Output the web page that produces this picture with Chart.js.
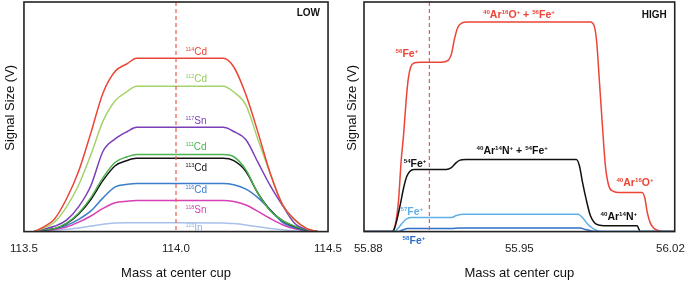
<!DOCTYPE html>
<html><head><meta charset="utf-8">
<script src="https://cdn.jsdelivr.net/npm/chart.js@4.4.1/dist/chart.umd.min.js"></script>
<style>
html,body{margin:0;padding:0;background:#fff;overflow:hidden;}
#wrap{position:relative;width:685px;height:283px;overflow:hidden;}
#left{position:absolute;left:0;top:0;width:352px;height:283px;}
#right{position:absolute;left:342px;top:0;width:353px;height:283px;}
</style></head><body>
<div id="wrap"><canvas id="left" width="352" height="283"></canvas><canvas id="right" width="353" height="283"></canvas></div>
<script>
// ---------- LOW resolution panel (Cd / Sn / In) ----------
const leftMass = [113.533, 113.56, 113.60, 113.64, 113.68, 113.72, 113.76, 113.80, 113.84, 113.87, 114.00, 114.155, 114.19, 114.23, 114.27, 114.31, 114.35, 114.39, 114.43, 114.465];
const cd114 = [0, 0.17, 0.54, 1.43, 2.64, 4.30, 6.04, 6.98, 7.32, 7.55, 7.55, 7.55, 7.17, 5.96, 4.30, 2.53, 1.18, 0.53, 0.13, 0];
const cd112 = [0, 0.13, 0.41, 1.08, 2.03, 3.35, 4.81, 5.70, 6.11, 6.33, 6.33, 6.33, 6.08, 5.51, 3.99, 2.53, 1.20, 0.51, 0.13, 0];
const sn117 = [0, 0.09, 0.23, 0.50, 1.09, 2.00, 3.50, 4.04, 4.36, 4.54, 4.54, 4.54, 4.36, 4.00, 3.00, 2.00, 1.14, 0.36, 0.09, 0];
const cd111 = [0, 0.07, 0.13, 0.37, 0.81, 1.48, 2.35, 3.02, 3.26, 3.36, 3.36, 3.36, 3.26, 2.69, 1.65, 0.91, 0.49, 0.24, 0.07, 0];
const cd113 = [0, 0.06, 0.13, 0.35, 0.77, 1.40, 2.23, 2.87, 3.10, 3.19, 3.19, 3.19, 3.09, 2.62, 1.66, 0.93, 0.48, 0.22, 0.06, 0];
const cd116 = [0, 0.04, 0.13, 0.27, 0.53, 0.90, 1.47, 1.95, 2.06, 2.10, 2.10, 2.10, 2.04, 1.85, 1.47, 0.95, 0.40, 0.17, 0.04, 0];
const sn118 = [0, 0.04, 0.09, 0.20, 0.41, 0.68, 1.01, 1.26, 1.32, 1.35, 1.35, 1.35, 1.31, 1.16, 0.88, 0.57, 0.30, 0.12, 0.03, 0];
const in115 = [0, 0.02, 0.05, 0.10, 0.16, 0.24, 0.32, 0.37, 0.39, 0.39, 0.39, 0.38, 0.35, 0.29, 0.21, 0.14, 0.08, 0.03, 0.01, 0];
const leftNames = ['^{114}Cd', '^{112}Cd', '^{117}Sn', '^{111}Cd', '^{113}Cd', '^{116}Cd', '^{118}Sn', '^{115}In'];
const leftTicks = [113.5, 114.0, 114.5];
const leftCenter = 114.0;

// ---------- HIGH resolution panel (Fe / ArO / ArN) ----------
const redMass = [55.878, 55.8910, 55.8926, 55.8940, 55.8952, 55.8964, 55.8975, 55.8985, 55.8996, 55.9011, 55.9044, 55.9138, 55.9171, 55.9185, 55.9199, 55.9213, 55.9232, 55.9260, 55.9829, 55.9847, 55.9858, 55.9871, 55.9885, 55.9899, 55.9914, 55.9937, 55.9961, 56.0069, 56.0082, 56.0092, 56.0106, 56.0125, 56.0153, 56.0187, 56.022];
const redSignal = [0, 0, 0.35, 1.35, 3.06, 4.28, 5.68, 6.64, 7.16, 7.34, 7.38, 7.38, 7.47, 7.73, 8.38, 8.86, 9.08, 9.13, 9.13, 8.95, 8.30, 6.55, 4.59, 2.84, 2.01, 1.75, 1.70, 1.70, 1.44, 0.87, 0.39, 0.13, 0.02, 0, 0];
const blackMass = [55.878, 55.8910, 55.8921, 55.8935, 55.8949, 55.8964, 55.8978, 55.8992, 55.9011, 55.9161, 55.9185, 55.9204, 55.9222, 55.9251, 55.9764, 55.9778, 55.9792, 55.9811, 55.9829, 55.9848, 55.9872, 55.9891, 56.0046, 56.0053, 56.0060, 56.022];
const blackSignal = [0, 0, 0.13, 0.61, 1.22, 1.92, 2.40, 2.62, 2.71, 2.71, 2.79, 2.97, 3.10, 3.14, 3.14, 2.88, 2.18, 1.35, 0.70, 0.39, 0.28, 0.26, 0.26, 0.13, 0, 0];
const fe57Mass = [55.878, 55.8921, 55.8940, 55.8959, 55.8978, 55.9001, 55.9185, 55.9208, 55.9241, 55.9773, 55.9792, 55.9811, 55.9829, 55.9853, 55.9881, 56.022];
const fe57Signal = [0, 0, 0.17, 0.39, 0.55, 0.61, 0.61, 0.70, 0.76, 0.76, 0.61, 0.39, 0.22, 0.07, 0, 0];
const fe58Mass = [55.878, 55.8935, 55.8959, 55.8982, 55.9006, 55.9185, 55.9222, 55.9782, 55.9806, 55.9834, 55.9872, 56.022];
const fe58Signal = [0, 0, 0.07, 0.13, 0.14, 0.14, 0.16, 0.16, 0.09, 0.03, 0, 0];
const rightTicks = [55.88, 55.95, 56.02];
const rightCenter = 55.9083;

const FAMILY = "'Liberation Sans', Arial, Helvetica, sans-serif";
Chart.defaults.font.family = FAMILY;

function pts(xs, ys) { return xs.map((x, i) => ({ x: x, y: ys[i] })); }
function ds(xs, ys, color) {
  return { data: pts(xs, ys), borderColor: color, borderWidth: 1.5, pointRadius: 0,
    fill: false, cubicInterpolationMode: 'monotone', tension: 0.4 };
}

function parseRich(str) {
  const out = []; const re = /\^\{([^}]*)\}|[^^]+/g; let m;
  while ((m = re.exec(str))) { if (m[1] !== undefined) out.push({ t: m[1], sup: true }); else out.push({ t: m[0], sup: false }); }
  return out;
}
function drawRich(ctx, str, x, y, o) {
  const size = o.size, sup = o.sup, bold = o.bold ? 'bold ' : '';
  const segs = parseRich(str);
  let w = 0;
  segs.forEach(s => { ctx.font = bold + (s.sup ? sup : size) + 'px ' + FAMILY; s.w = ctx.measureText(s.t).width; w += s.w; });
  let cx = o.align === 'center' ? x - w / 2 : (o.align === 'right' ? x - w : x);
  const base = y + size * 0.36;
  ctx.save(); ctx.fillStyle = o.color; ctx.textBaseline = 'alphabetic'; ctx.textAlign = 'left';
  segs.forEach(s => {
    ctx.font = bold + (s.sup ? sup : size) + 'px ' + FAMILY;
    ctx.fillText(s.t, cx, s.sup ? base - size * 0.42 : base);
    cx += s.w;
  });
  ctx.restore();
}

const frame = {
  id: 'frame',
  afterDatasetsDraw(chart, args, opts) {
    const { ctx, chartArea: a, scales } = chart;
    const x = scales.x.getPixelForValue(opts.center);
    ctx.save();
    ctx.strokeStyle = '#ef5a4e'; ctx.lineWidth = 1.2; ctx.setLineDash([4, 3]);
    ctx.beginPath(); ctx.moveTo(x, a.top); ctx.lineTo(x, a.bottom); ctx.stroke();
    ctx.setLineDash([]);
    ctx.strokeStyle = '#222'; ctx.lineWidth = 1.6;
    ctx.strokeRect(a.left, a.top, a.right - a.left, a.bottom - a.top);
    ctx.restore();
    ctx.save();
    ctx.translate(a.left - opts.ytitleGap, (a.top + a.bottom) / 2 - 9);
    ctx.rotate(-Math.PI / 2);
    ctx.font = '13px ' + FAMILY; ctx.fillStyle = '#111'; ctx.textAlign = 'center'; ctx.textBaseline = 'middle';
    ctx.fillText('Signal Size (V)', 0, 0);
    ctx.restore();
    ctx.save();
    ctx.font = 'bold 10px ' + FAMILY; ctx.fillStyle = '#111'; ctx.textAlign = 'right'; ctx.textBaseline = 'middle';
    ctx.fillText(opts.tag, a.right - 8, a.top + opts.tagDy);
    ctx.restore();
  }
};

const leftLabels = {
  id: 'leftLabels',
  afterDraw(chart, args, opts) {
    const { ctx, scales } = chart;
    const x0 = scales.x.getPixelForValue(leftCenter) + 9.5;
    chart.data.datasets.forEach((d, i) => {
      const peak = Math.max.apply(null, d.data.map(p => p.y));
      const y = scales.y.getPixelForValue(peak) + opts.offsets[i];
      drawRich(ctx, leftNames[i], x0, y, { size: 10, sup: 5.5, color: opts.colors[i], align: 'left' });
    });
  }
};

const rightLabels = {
  id: 'rightLabels',
  afterDraw(chart, args, opts) {
    const { ctx, scales } = chart;
    opts.items.forEach(it => {
      drawRich(ctx, it.text, scales.x.getPixelForValue(it.x), scales.y.getPixelForValue(it.y),
        { size: 10.5, sup: 6.2, bold: true, color: it.color, align: it.align });
    });
  }
};

function xScale(min, max, ticks, digits) {
  return {
    type: 'linear', min: min, max: max,
    afterBuildTicks: s => { s.ticks = ticks.map(v => ({ value: v })); },
    grid: { display: false, drawTicks: false }, border: { display: false },
    ticks: { font: { size: 11.5 }, color: '#222', padding: 10, maxRotation: 0, autoSkip: false,
      callback: v => Number(v).toFixed(digits) },
    title: { display: true, text: 'Mass at center cup', font: { size: 13 }, color: '#111', padding: { top: 0, bottom: 2 } }
  };
}

const leftColors = ['#ec4436', '#a3d36b', '#7b3fb8', '#4db251', '#111111', '#3b7ccc', '#d83fb4', '#a8c0ea'];
const leftSeries = [cd114, cd112, sn117, cd111, cd113, cd116, sn118, in115];

new Chart(document.getElementById('left'), {
  type: 'line',
  data: { datasets: leftSeries.map((s, i) => ds(leftMass, s, leftColors[i])) },
  options: {
    responsive: false, animation: false,
    layout: { padding: { left: 23, right: 14, top: 2, bottom: 0 } },
    plugins: { legend: { display: false }, tooltip: { enabled: false },
      frame: { center: leftCenter, ytitleGap: 14, tag: 'LOW', tagDy: 11 },
      leftLabels: { offsets: [-7, -8, -7, -8, 9, 6, 9, 5],
        colors: ['#ec4436', '#95cc58', '#7b3fb8', '#4db251', '#111111', '#3b7ccc', '#d83fb4', '#93b3e6'] } },
    scales: { x: xScale(113.5, 114.5, leftTicks, 1), y: { display: false, min: 0, max: 10 } }
  },
  plugins: [frame, leftLabels]
});

new Chart(document.getElementById('right'), {
  type: 'line',
  data: { datasets: [
    ds(fe58Mass, fe58Signal, '#2f6fc9'),
    ds(fe57Mass, fe57Signal, '#5fb0e6'),
    ds(blackMass, blackSignal, '#111111'),
    ds(redMass, redSignal, '#ec4436')
  ] },
  options: {
    responsive: false, animation: false,
    layout: { padding: { left: 22, right: 15, top: 2, bottom: 0 } },
    plugins: { legend: { display: false }, tooltip: { enabled: false },
      frame: { center: rightCenter, ytitleGap: 12, tag: 'HIGH', tagDy: 13 },
      rightLabels: { items: [
        { text: '^{56}Fe^{+}', x: 55.8926, y: 7.77, color: '#ec4436', align: 'left' },
        { text: '^{40}Ar^{16}O^{+} + ^{56}Fe^{+}', x: 55.9498, y: 9.45, color: '#ec4436', align: 'center' },
        { text: '^{54}Fe^{+}', x: 55.8964, y: 2.97, color: '#111', align: 'left' },
        { text: '^{40}Ar^{14}N^{+} + ^{54}Fe^{+}', x: 55.9467, y: 3.54, color: '#111', align: 'center' },
        { text: '^{40}Ar^{16}O^{+}', x: 56.0036, y: 2.14, color: '#ec4436', align: 'center' },
        { text: '^{40}Ar^{14}N^{+}', x: 55.9961, y: 0.66, color: '#111', align: 'center' },
        { text: '^{57}Fe^{+}', x: 55.8949, y: 0.87, color: '#5fb0e6', align: 'left' },
        { text: '^{58}Fe^{+}', x: 55.8959, y: -0.39, color: '#2f6fc9', align: 'left' }
      ] } },
    scales: { x: xScale(55.878, 56.022, rightTicks, 2), y: { display: false, min: 0, max: 10 } }
  },
  plugins: [frame, rightLabels]
});
</script>
</body></html>
